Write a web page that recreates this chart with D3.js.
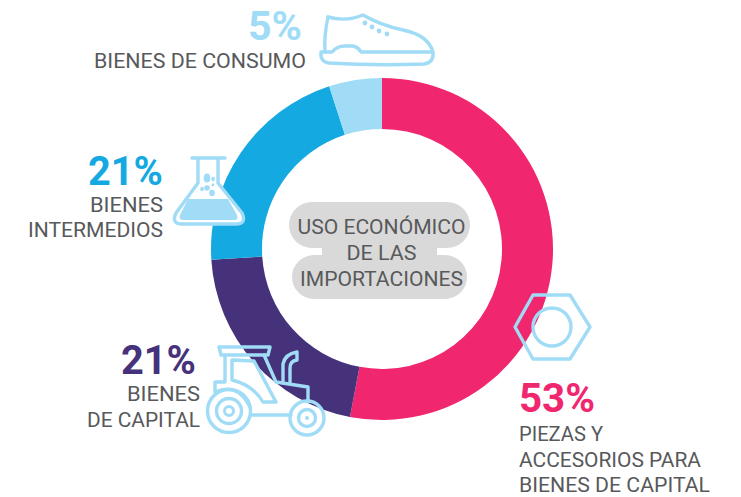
<!DOCTYPE html>
<html><head><meta charset="utf-8">
<script src="https://cdn.jsdelivr.net/npm/d3@7"></script>
<style>html,body{margin:0;padding:0;background:#fff}svg{display:block}text{font-family:Roboto,"Noto Sans",sans-serif}</style>
</head><body><div id="chart"></div>
<script>
const categories = ["Piezas y accesorios para bienes de capital","Bienes de capital","Bienes intermedios","Bienes de consumo"];
const shares = [53,21,21,5];
const colors = ["#f0266f","#46327a","#15a9e1","#a0dcf6"];
const percentLabels = ["53%","21%","21%","5%"];
const captionLines = [["PIEZAS Y","ACCESORIOS PARA","BIENES DE CAPITAL"],["BIENES","DE CAPITAL"],["BIENES","INTERMEDIOS"],["BIENES DE CONSUMO"]];
const centerLines = ["USO ECONÓMICO","DE LAS","IMPORTACIONES"];

const W=741,H=497,cx=382,cy=249,R=171,r=120,ICON="#a0dcf6",GREY="#58595b";
const svg=d3.select("#chart").append("svg").attr("width",W).attr("height",H);

const pie=d3.pie().sort(null).value(d=>d);
const arc=d3.arc().innerRadius(r).outerRadius(R);
svg.append("g").attr("transform",`translate(${cx},${cy})`)
  .selectAll("path").data(pie(shares)).join("path").attr("d",arc).attr("fill",(d,i)=>colors[i]);

// centre label plate
const plate=svg.append("g").attr("fill","#d9d9d9");
plate.append("rect").attr("x",289).attr("y",202).attr("width",181).attr("height",46).attr("rx",23);
plate.append("rect").attr("x",322).attr("y",240).attr("width",115).attr("height",24);
plate.append("rect").attr("x",292).attr("y",255).attr("width",175).attr("height",44).attr("rx",22);

// caption layout
const layout=[
 {x:519,a:"start",py:412,pw:76,y:441,dy:25.5,w:[84,182,191]},
 {x:196,a:"end",py:374,pw:75,tx:200,y:401,dy:26,w:[73,113]},
 {x:163,a:"end",py:185,pw:75,tx:163,y:212,dy:25,w:[73,135]},
 {x:302,a:"end",py:40,pw:54,tx:306,y:68,dy:0,w:[212]}
];
layout.forEach((L,i)=>{
  svg.append("text").attr("x",L.x).attr("y",L.py).attr("text-anchor",L.a)
    .attr("font-size",41).attr("font-weight",700).attr("fill",colors[i])
    .attr("textLength",L.pw).attr("lengthAdjust","spacingAndGlyphs").text(percentLabels[i]);
  captionLines[i].forEach((t,j)=>{
    svg.append("text").attr("x",L.tx??L.x).attr("y",L.y+j*L.dy).attr("text-anchor",L.a)
      .attr("font-size",21).attr("fill",GREY)
      .attr("textLength",L.w[j]).attr("lengthAdjust","spacingAndGlyphs").text(t);
  });
});
const centerWidths=[168,70,163];
centerLines.forEach((t,j)=>{
  svg.append("text").attr("x",381.5).attr("y",234+j*26).attr("text-anchor","middle")
    .attr("font-size",21).attr("fill",GREY)
    .attr("textLength",centerWidths[j]).attr("lengthAdjust","spacingAndGlyphs").text(t);
});

// decorative icons
const ic=svg.append("g");
const line=(d,w=3.4)=>ic.append("path").attr("d",d).attr("fill","none").attr("stroke",ICON)
  .attr("stroke-width",w).attr("stroke-linejoin","round").attr("stroke-linecap","round");
const dot=(x,y,rx,ry=rx)=>ic.append("ellipse").attr("cx",x).attr("cy",y).attr("rx",rx).attr("ry",ry).attr("fill",ICON);
const ring=(x,y,rad,w=3.4)=>ic.append("circle").attr("cx",x).attr("cy",y).attr("r",rad).attr("fill","none").attr("stroke",ICON).attr("stroke-width",w);

// shoe
line("M328,17 Q346,22 363,15 Q380,25 403,30 Q428,35 433,52 Q434,63 424,64 Q375,66 329,63 Q320,62 321,52 L332,52 Q337,46 345,46 L353,46 Q358,47 361,52 L433,52");
line("M328,17 Q324,35 325,52");
[[365,23],[372,27],[379,31],[387,34]].forEach(p=>dot(p[0],p[1],2.4));

// flask
ic.append("path").attr("d","M198,160 L198,183 L177,213 Q172,223 182,223 L236,223 Q246,223 241,213 L218,183 L218,160 Z").attr("fill","#fff");
line("M192,158 L225,158",3.6);
line("M198,159 L198,183 L176,213 Q171,224 182,224 L236,224 Q247,224 242,213 L218,183 L218,159");
ic.append("path").attr("d","M188,199 L228,199 L237,215 Q239,220 234,220 L184,220 Q178,220 180,215 Z").attr("fill",ICON);
dot(207,178,3.3,4.6);dot(213,179,1.8,2.2);dot(212,193,2.8,3.2);dot(207,188,2.8);dot(202,189,1.8,2.3);dot(213,185,1.4);

// tractor
line("M219,347 L270,347 L268,355 L221,355 Z");
line("M225,355 L225,382 L215,382 L215,392 Q238,382 250,407");
line("M232,360 L254,361 L276,402 L263,402 Q253,385 232,380 Z");
line("M264,355 L276,382 L308,387 L308,402");
line("M252,415 L291,415");
line("M283,381 L283,364 Q285,354 297,352 L297,360 Q290,361 290,368 L290,382");
ring(229,411,21.5);ring(229,411,12.5);ring(229,411,4.5,3);
ring(307,418,17);ring(307,418,8.5);dot(307,418,2);

// nut
line("M515,327 L533,295 L570,295 L590,327 L570,359 L533,359 Z");
ring(552,327,19);
</script></body></html>
